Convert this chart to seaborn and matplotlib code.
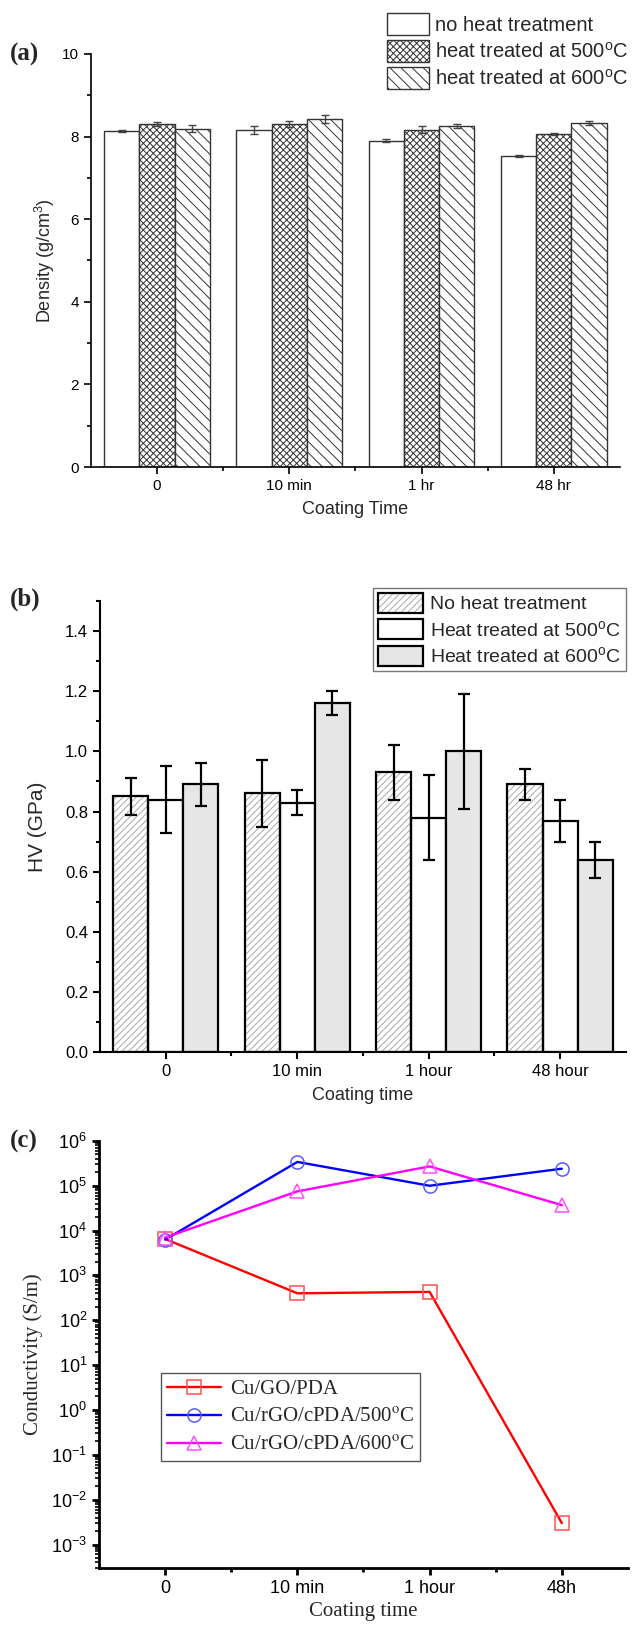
import matplotlib as mpl
mpl.use('Agg')
import matplotlib.pyplot as plt
import seaborn as sns
import pandas as pd
import numpy as np
from matplotlib.patches import Patch, Rectangle
from matplotlib.legend_handler import HandlerTuple
from matplotlib.ticker import MultipleLocator, LogLocator, NullFormatter, FixedLocator
from matplotlib.font_manager import FontProperties

# ---- (a) density ----
dens_times = ['0', '10 min', '1 hr', '48 hr']
dens_groups = ['no heat treatment',
               'heat treated at 500$^{\\mathrm{o}}$C',
               'heat treated at 600$^{\\mathrm{o}}$C']
dens_none = [8.14, 8.16, 7.90, 7.53]
dens_500 = [8.30, 8.30, 8.17, 8.06]
dens_600 = [8.19, 8.42, 8.25, 8.33]
dens_none_err = [0.02, 0.09, 0.04, 0.03]
dens_500_err = [0.05, 0.07, 0.09, 0.03]
dens_600_err = [0.08, 0.10, 0.05, 0.05]

# ---- (b) hardness ----
hv_times = ['0', '10 min', '1 hour', '48 hour']
hv_groups = ['No heat treatment',
             'Heat treated at 500$^{\\mathrm{o}}$C',
             'Heat treated at 600$^{\\mathrm{o}}$C']
hv_none = [0.85, 0.86, 0.93, 0.89]
hv_500 = [0.84, 0.83, 0.78, 0.77]
hv_600 = [0.89, 1.16, 1.00, 0.64]
hv_none_err = [0.06, 0.11, 0.09, 0.05]
hv_500_err = [0.11, 0.04, 0.14, 0.07]
hv_600_err = [0.07, 0.04, 0.19, 0.06]

# ---- (c) conductivity ----
cond_times = ['0', '10 min', '1 hour', '48h']
cond_labels = ['Cu/GO/PDA',
               'Cu/rGO/cPDA/500$^{\\mathrm{o}}$C',
               'Cu/rGO/cPDA/600$^{\\mathrm{o}}$C']
cond_gopda = [6500, 400, 430, 0.003]
cond_500 = [6300, 3.4e5, 1.0e5, 2.4e5]
cond_600 = [7000, 7.5e4, 2.7e5, 3.7e4]
cond_decades = [1e-3, 1e-2, 1e-1, 1e0, 1e1, 1e2, 1e3, 1e4, 1e5, 1e6]

sns.set_style('ticks')
plt.rcParams['font.family'] = ['Liberation Sans', 'DejaVu Sans']
plt.rcParams['mathtext.fontset'] = 'custom'
plt.rcParams['mathtext.rm'] = 'Liberation Sans'
plt.rcParams['mathtext.it'] = 'Liberation Sans:italic'
plt.rcParams['mathtext.bf'] = 'Liberation Sans:bold'
plt.rcParams['axes.edgecolor'] = 'black'
plt.rcParams['xtick.color'] = 'black'
plt.rcParams['ytick.color'] = 'black'
plt.rcParams['hatch.linewidth'] = 0.7
serif = ['Liberation Serif', 'DejaVu Serif']

fig = plt.figure(figsize=(6.35, 16.25), dpi=100)
ax1 = fig.add_axes([0.1433, 0.7126, 0.833, 0.2542])
ax2 = fig.add_axes([0.1575, 0.3526, 0.828, 0.2775])
ax3 = fig.add_axes([0.1559, 0.0351, 0.833, 0.2628])


def style_axis(ax, lw, size):
    sns.despine(ax=ax)
    for s in ['left', 'bottom']:
        ax.spines[s].set_linewidth(lw)
    ax.tick_params(which='major', direction='out', length=5, width=lw, labelsize=size)
    ax.tick_params(which='minor', direction='out', length=3, width=lw)
    ax.xaxis.set_minor_locator(FixedLocator([0.5, 1.5, 2.5]))
    ax.set_xlim(-0.5, 3.5)


# ---------- panel (a) ----------
dfa = pd.DataFrame({
    'time': dens_times * 3,
    'group': np.repeat(dens_groups, 4),
    'value': dens_none + dens_500 + dens_600,
})
errs_a = [dens_none_err, dens_500_err, dens_600_err]
hatches_a = ['', 'xxxxx', '\\\\\\']
sns.barplot(data=dfa, x='time', y='value', hue='group', order=dens_times,
            hue_order=dens_groups, palette=['white'] * 3, saturation=1,
            errorbar=None, edgecolor='#333333', linewidth=1.0, ax=ax1, legend=False)
bars_a = list(ax1.containers)
for i, cont in enumerate(bars_a):
    xs = []
    ys = []
    for bar in cont:
        bar.set_hatch(hatches_a[i])
        xs.append(bar.get_x() + bar.get_width() / 2)
        ys.append(bar.get_height())
    ax1.errorbar(xs, ys, yerr=errs_a[i], fmt='none', ecolor='#444444',
                 elinewidth=1.0, capsize=3, capthick=1.0)
style_axis(ax1, 1.2, 11)
ax1.set_xticks(range(4))
ax1.set_ylim(0, 10)
ax1.yaxis.set_major_locator(MultipleLocator(2))
ax1.yaxis.set_minor_locator(MultipleLocator(1))
ax1.set_xlabel('Coating Time', fontsize=13, labelpad=6)
ax1.set_ylabel('Density (g/cm$^{3}$)', fontsize=13, labelpad=4)
handles_a = [Patch(facecolor='white', edgecolor='#333333', hatch=h, linewidth=1.0)
             for h in hatches_a]
fig.legend(handles_a, dens_groups, loc='upper right', bbox_to_anchor=(1.01, 1.0),
           frameon=False, fontsize=14.5, handlelength=2.1, handleheight=1.3,
           handletextpad=0.3, labelspacing=0.25, borderpad=0.15)

# ---------- panel (b) ----------
dfb = pd.DataFrame({
    'time': hv_times * 3,
    'group': np.repeat(hv_groups, 4),
    'value': hv_none + hv_500 + hv_600,
})
errs_b = [hv_none_err, hv_500_err, hv_600_err]
faces_b = ['white', 'white', '#e6e6e6']
sns.barplot(data=dfb, x='time', y='value', hue='group', order=hv_times,
            hue_order=hv_groups, palette=faces_b, saturation=1,
            errorbar=None, edgecolor='black', linewidth=1.6, ax=ax2, legend=False)
bars_b = list(ax2.containers)
for i, cont in enumerate(bars_b):
    xs = []
    ys = []
    for bar in cont:
        if i == 0:
            bar.set_hatch('/////')
            bar.set_edgecolor('#a8a8a8')
            bar.set_linewidth(0)
            ax2.add_patch(Rectangle(bar.get_xy(), bar.get_width(), bar.get_height(),
                                    fill=False, edgecolor='black', linewidth=1.6))
        xs.append(bar.get_x() + bar.get_width() / 2)
        ys.append(bar.get_height())
    ax2.errorbar(xs, ys, yerr=errs_b[i], fmt='none', ecolor='black',
                 elinewidth=1.6, capsize=4, capthick=1.6)
style_axis(ax2, 1.5, 12)
ax2.set_xticks(range(4))
ax2.set_ylim(0, 1.5)
ax2.yaxis.set_major_locator(MultipleLocator(0.2))
ax2.yaxis.set_minor_locator(MultipleLocator(0.1))
ax2.yaxis.set_major_formatter(mpl.ticker.FormatStrFormatter('%.1f'))
ax2.set_xlabel('Coating time', fontsize=13, labelpad=6)
ax2.set_ylabel('HV (GPa)', fontsize=15, labelpad=13)
hatch_handle = (Patch(facecolor='white', edgecolor='#a8a8a8', hatch='/////', linewidth=0),
                Patch(fill=False, edgecolor='black', linewidth=1.6))
handles_b = [hatch_handle,
             Patch(facecolor='white', edgecolor='black', linewidth=1.6),
             Patch(facecolor='#e6e6e6', edgecolor='black', linewidth=1.6)]
ax2.legend(handles_b, hv_groups, loc='upper right', bbox_to_anchor=(1.0, 1.029),
           handler_map={tuple: HandlerTuple(ndivide=1, pad=0)},
           frameon=True, fancybox=False, edgecolor='#777777', framealpha=1,
           fontsize=14, handlelength=2.3, handleheight=1.2, handletextpad=0.4,
           labelspacing=0.3, borderpad=0.25, borderaxespad=0)

# ---------- panel (c) ----------
ax3.set_yscale('log')
dfc = pd.DataFrame({
    'pos': list(range(4)) * 3,
    'sample': np.repeat(cond_labels, 4),
    'value': cond_gopda + cond_500 + cond_600,
})
line_colors = ['#ff0000', '#0000ff', '#ff00ff']
edge_colors = ['#ff5050', '#5a5aff', '#ff50ff']
markers = ['s', 'o', '^']
for lab, lc, ec, mk in zip(cond_labels, line_colors, edge_colors, markers):
    sns.lineplot(data=dfc[dfc['sample'] == lab], x='pos', y='value', color=lc,
                 linewidth=1.7, marker=mk, markersize=9.5, markerfacecolor='none',
                 markeredgecolor=ec, markeredgewidth=1.1, label=lab, ax=ax3)
style_axis(ax3, 2.0, 13)
ax3.set_ylim(3.0e-4, 1e6)
ax3.yaxis.set_major_locator(FixedLocator(cond_decades))
ax3.yaxis.set_major_formatter(mpl.ticker.LogFormatterSciNotation())
ax3.yaxis.set_minor_locator(LogLocator(base=10, subs=np.arange(2, 10), numticks=20))
ax3.yaxis.set_minor_formatter(NullFormatter())
ax3.tick_params(axis='y', which='minor', length=3, width=1.2)
ax3.set_xticks(range(4))
ax3.set_xticklabels(cond_times)
ax3.set_xlabel('Coating time', fontsize=15, family=serif, labelpad=4)
ax3.set_ylabel('Conductivity (S/m)', fontsize=15, family=serif, labelpad=6)
h3, l3 = ax3.get_legend_handles_labels()
ax3.legend(h3, l3, loc='upper left', bbox_to_anchor=(0.117, 0.456),
           frameon=True, fancybox=False, edgecolor='#555555', framealpha=1,
           prop=FontProperties(family=serif, size=15, math_fontfamily='stix'),
           handlelength=2.6, handletextpad=0.4, labelspacing=0.4, borderpad=0.3,
           borderaxespad=0)

# panel labels
fig.text(0.015, 1 - 54 / 1625, '(a)', fontsize=18, fontweight='bold', family=serif, va='center')
fig.text(0.015, 1 - 599 / 1625, '(b)', fontsize=18, fontweight='bold', family=serif, va='center')
fig.text(0.015, 1 - 1141 / 1625, '(c)', fontsize=18, fontweight='bold', family=serif, va='center')

fig.savefig('out.png', dpi=100)
